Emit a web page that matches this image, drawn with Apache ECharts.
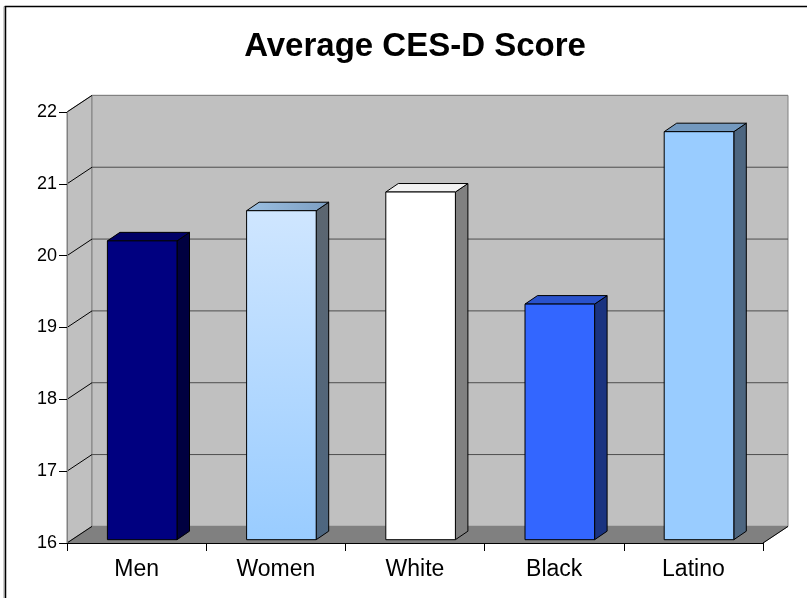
<!DOCTYPE html>
<html>
<head>
<meta charset="utf-8">
<script src="https://cdn.jsdelivr.net/npm/echarts@6/dist/echarts.min.js"></script>
<style>html,body{margin:0;padding:0;background:#fff;}#c{width:807px;height:598px;}</style>
</head>
<body>
<div id="c"></div>
<script>
// ---- data ----
const categories = ['Men', 'Women', 'White', 'Black', 'Latino'];
const scores = [20.16, 20.58, 20.84, 19.28, 21.68];
const yTicks = [16, 17, 18, 19, 20, 21, 22];

// ---- styles ----
const frontColors = ['#000080', 'grad', '#FFFFFF', '#3366FF', '#99CCFF'];
const topColors = ['#000066', '#8AAED2', '#F2F2F2', '#2952CC', '#7399BF'];
const sideColors = ['#000040', '#56667A', '#808080', '#1A3380', '#4D6680'];

const DX = 25, DY = -16.6;      // wall depth
const SX = 5.6, SY = -3.3;      // bar front offset
const BDX = 12.5, BDY = -8.5;   // bar depth
const YMIN = 16, YMAX = 22;

const chart = echarts.init(document.getElementById('c'));

function wallsRender(params, api) {
  const cs = params.coordSys;
  const x0 = cs.x, x1 = cs.x + cs.width, y0 = cs.y, y1 = cs.y + cs.height;
  const ch = [];
  ch.push({type: 'polygon', shape: {points: [[x0, y0], [x0 + DX, y0 + DY], [x0 + DX, y1 + DY], [x0, y1]]},
    style: {fill: '#C0C0C0', stroke: '#808080', lineWidth: 1}});
  ch.push({type: 'polygon', shape: {points: [[x0 + DX, y0 + DY], [x1 + DX, y0 + DY], [x1 + DX, y1 + DY], [x0 + DX, y1 + DY]]},
    style: {fill: '#C0C0C0', stroke: '#808080', lineWidth: 1}});
  ch.push({type: 'polygon', shape: {points: [[x0, y1], [x1, y1], [x1 + DX, y1 + DY], [x0 + DX, y1 + DY]]},
    style: {fill: '#808080', stroke: '#808080', lineWidth: 1}});
  yTicks.forEach(function (v) {
    if (v === YMIN) return;
    const y = api.coord([0, v])[1];
    const col = v === YMAX ? '#808080' : '#4D4D4D';
    ch.push({type: 'line', shape: {x1: x0 + DX, y1: y + DY, x2: x1 + DX, y2: y + DY}, style: {stroke: col, lineWidth: 1}});
    ch.push({type: 'line', shape: {x1: x0, y1: y, x2: x0 + DX, y2: y + DY}, style: {stroke: '#000', lineWidth: 1}});
  });
  ch.push({type: 'line', shape: {x1: x0, y1: y1, x2: x0 + DX, y2: y1 + DY}, style: {stroke: '#000', lineWidth: 1}});
  ch.push({type: 'line', shape: {x1: x1, y1: y1, x2: x1 + DX, y2: y1 + DY}, style: {stroke: '#000', lineWidth: 1}});
  return {type: 'group', children: ch};
}

function barRender(params, api) {
  const i = api.value(0), v = api.value(1);
  const base = api.coord([i, YMIN]);
  const topP = api.coord([i, v]);
  const band = api.size([1, 0])[0];
  const w = band * 0.5;
  const l = base[0] - w / 2 + SX, r = base[0] + w / 2 + SX;
  const b = base[1] + SY, t = topP[1] + SY;
  let front = frontColors[i], top = topColors[i], side = sideColors[i];
  if (front === 'grad') {
    front = new echarts.graphic.LinearGradient(0, 0, 0, 1, [{offset: 0, color: '#CFE6FF'}, {offset: 1, color: '#99CCFF'}]);
    top = new echarts.graphic.LinearGradient(0, 0, 1, 0, [{offset: 0, color: '#9CC0E2'}, {offset: 1, color: '#7C9EC2'}]);
    side = new echarts.graphic.LinearGradient(0, 0, 0, 1, [{offset: 0, color: '#5C6670'}, {offset: 1, color: '#4D6680'}]);
  }
  return {type: 'group', children: [
    {type: 'polygon', shape: {points: [[r, t], [r + BDX, t + BDY], [r + BDX, b + BDY], [r, b]]},
      style: {fill: side, stroke: '#000', lineWidth: 1}},
    {type: 'polygon', shape: {points: [[l, t], [r, t], [r + BDX, t + BDY], [l + BDX, t + BDY]]},
      style: {fill: top, stroke: '#000', lineWidth: 1}},
    {type: 'rect', shape: {x: l, y: t, width: r - l, height: b - t},
      style: {fill: front, stroke: '#000', lineWidth: 1}}
  ]};
}

chart.setOption({
  animation: false,
  backgroundColor: '#fff',
  title: {
    text: 'Average CES-D Score', left: 410, textAlign: 'center', top: 25,
    textStyle: {fontFamily: 'Liberation Sans, Arial, sans-serif', fontWeight: 'bold', fontSize: 33, color: '#000'}
  },
  graphic: [
    {type: 'polyline', shape: {points: [[4, 598], [4, 6.5], [807, 6.5]]},
      style: {fill: 'none', stroke: '#9A9A9A', lineWidth: 1}, z: 99, silent: true},
    {type: 'polyline', shape: {points: [[5.5, 598], [5.5, 6.5], [807, 6.5]]},
      style: {fill: 'none', stroke: '#000', lineWidth: 1.5}, z: 100, silent: true}
  ],
  grid: {left: 67, right: 44, top: 112, bottom: 55, containLabel: false},
  xAxis: {
    type: 'category', data: categories, z: 10,
    axisLine: {show: true, lineStyle: {color: '#000', width: 1}},
    axisTick: {show: true, length: 8, lineStyle: {color: '#000'}},
    axisLabel: {fontFamily: 'Liberation Sans, Arial, sans-serif', fontSize: 23, color: '#000', margin: 15},
    splitLine: {show: false}
  },
  yAxis: {
    type: 'value', min: YMIN, max: YMAX, interval: 1, z: 10,
    axisLine: {show: true, lineStyle: {color: '#808080', width: 1}},
    axisTick: {show: true, length: 8, lineStyle: {color: '#000'}},
    axisLabel: {fontFamily: 'Liberation Sans, Arial, sans-serif', fontSize: 18, color: '#000', margin: 10},
    splitLine: {show: false}
  },
  series: [
    {type: 'custom', renderItem: wallsRender, data: [[0, YMIN]], z: 1, silent: true, clip: false},
    {type: 'custom', renderItem: barRender, data: scores.map(function (v, i) { return [i, v]; }), z: 3, clip: false,
      encode: {x: 0, y: 1}}
  ]
});
</script>
</body>
</html>
